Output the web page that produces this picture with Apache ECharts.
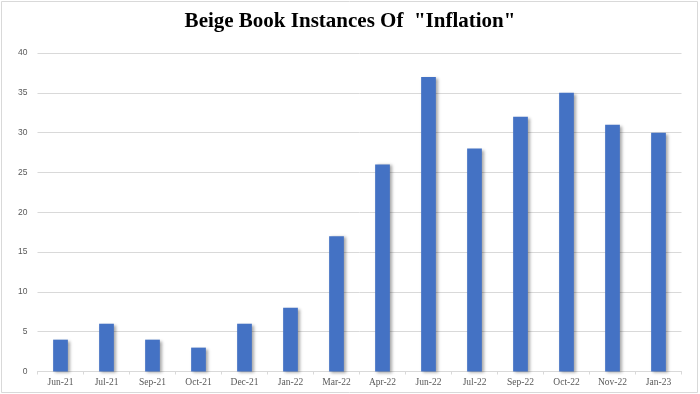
<!DOCTYPE html>
<html>
<head>
<meta charset="utf-8">
<script src="https://cdn.jsdelivr.net/npm/echarts@6/dist/echarts.min.js"></script>
<style>html,body{margin:0;padding:0;background:#fff}#c{width:700px;height:394px}</style>
</head>
<body>
<div id="c"></div>
<script>
const categories = ["Jun-21","Jul-21","Sep-21","Oct-21","Dec-21","Jan-22","Mar-22","Apr-22","Jun-22","Jul-22","Sep-22","Oct-22","Nov-22","Jan-23"];
const instances = [4, 6, 4, 3, 6, 8, 17, 26, 37, 28, 32, 35, 31, 30];
const yTicks = [0, 5, 10, 15, 20, 25, 30, 35, 40];
const titleText = 'Beige Book Instances Of  "Inflation"';

const chart = echarts.init(document.getElementById('c'), null, {renderer: 'canvas'});
chart.setOption({
  backgroundColor: '#fff',
  animation: false,
  title: {
    text: titleText,
    left: 'center',
    top: 6,
    textStyle: {fontFamily: 'Liberation Serif', fontWeight: 'bold', fontSize: 21, color: '#000'}
  },
  graphic: [{
    type: 'rect',
    shape: {x: 1.5, y: 1.5, width: 696, height: 391},
    style: {fill: 'none', stroke: '#d9d9d9', lineWidth: 1},
    silent: true
  }],
  grid: {left: 37.5, right: 18.5, top: 53, bottom: 22.5},
  xAxis: {
    type: 'category',
    data: categories,
    axisLine: {lineStyle: {color: '#d9d9d9'}},
    axisTick: {show: true, length: 3, lineStyle: {color: '#d9d9d9'}},
    axisLabel: {fontFamily: 'Liberation Serif', fontSize: 9.5, color: '#595959', margin: 6, interval: 0}
  },
  yAxis: {
    type: 'value',
    min: yTicks[0],
    max: yTicks[yTicks.length - 1],
    interval: 5,
    axisLine: {show: false},
    axisTick: {show: false},
    splitLine: {lineStyle: {color: '#d9d9d9'}},
    axisLabel: {fontFamily: 'Liberation Sans', fontSize: 8.5, color: '#595959', margin: 10}
  },
  series: [{
    type: 'bar',
    data: instances,
    barWidth: '32%',
    itemStyle: {
      color: '#4472c4',
      shadowColor: 'rgba(0,0,0,0.35)',
      shadowBlur: 3,
      shadowOffsetX: 2,
      shadowOffsetY: 1
    }
  }]
});
</script>
</body>
</html>
